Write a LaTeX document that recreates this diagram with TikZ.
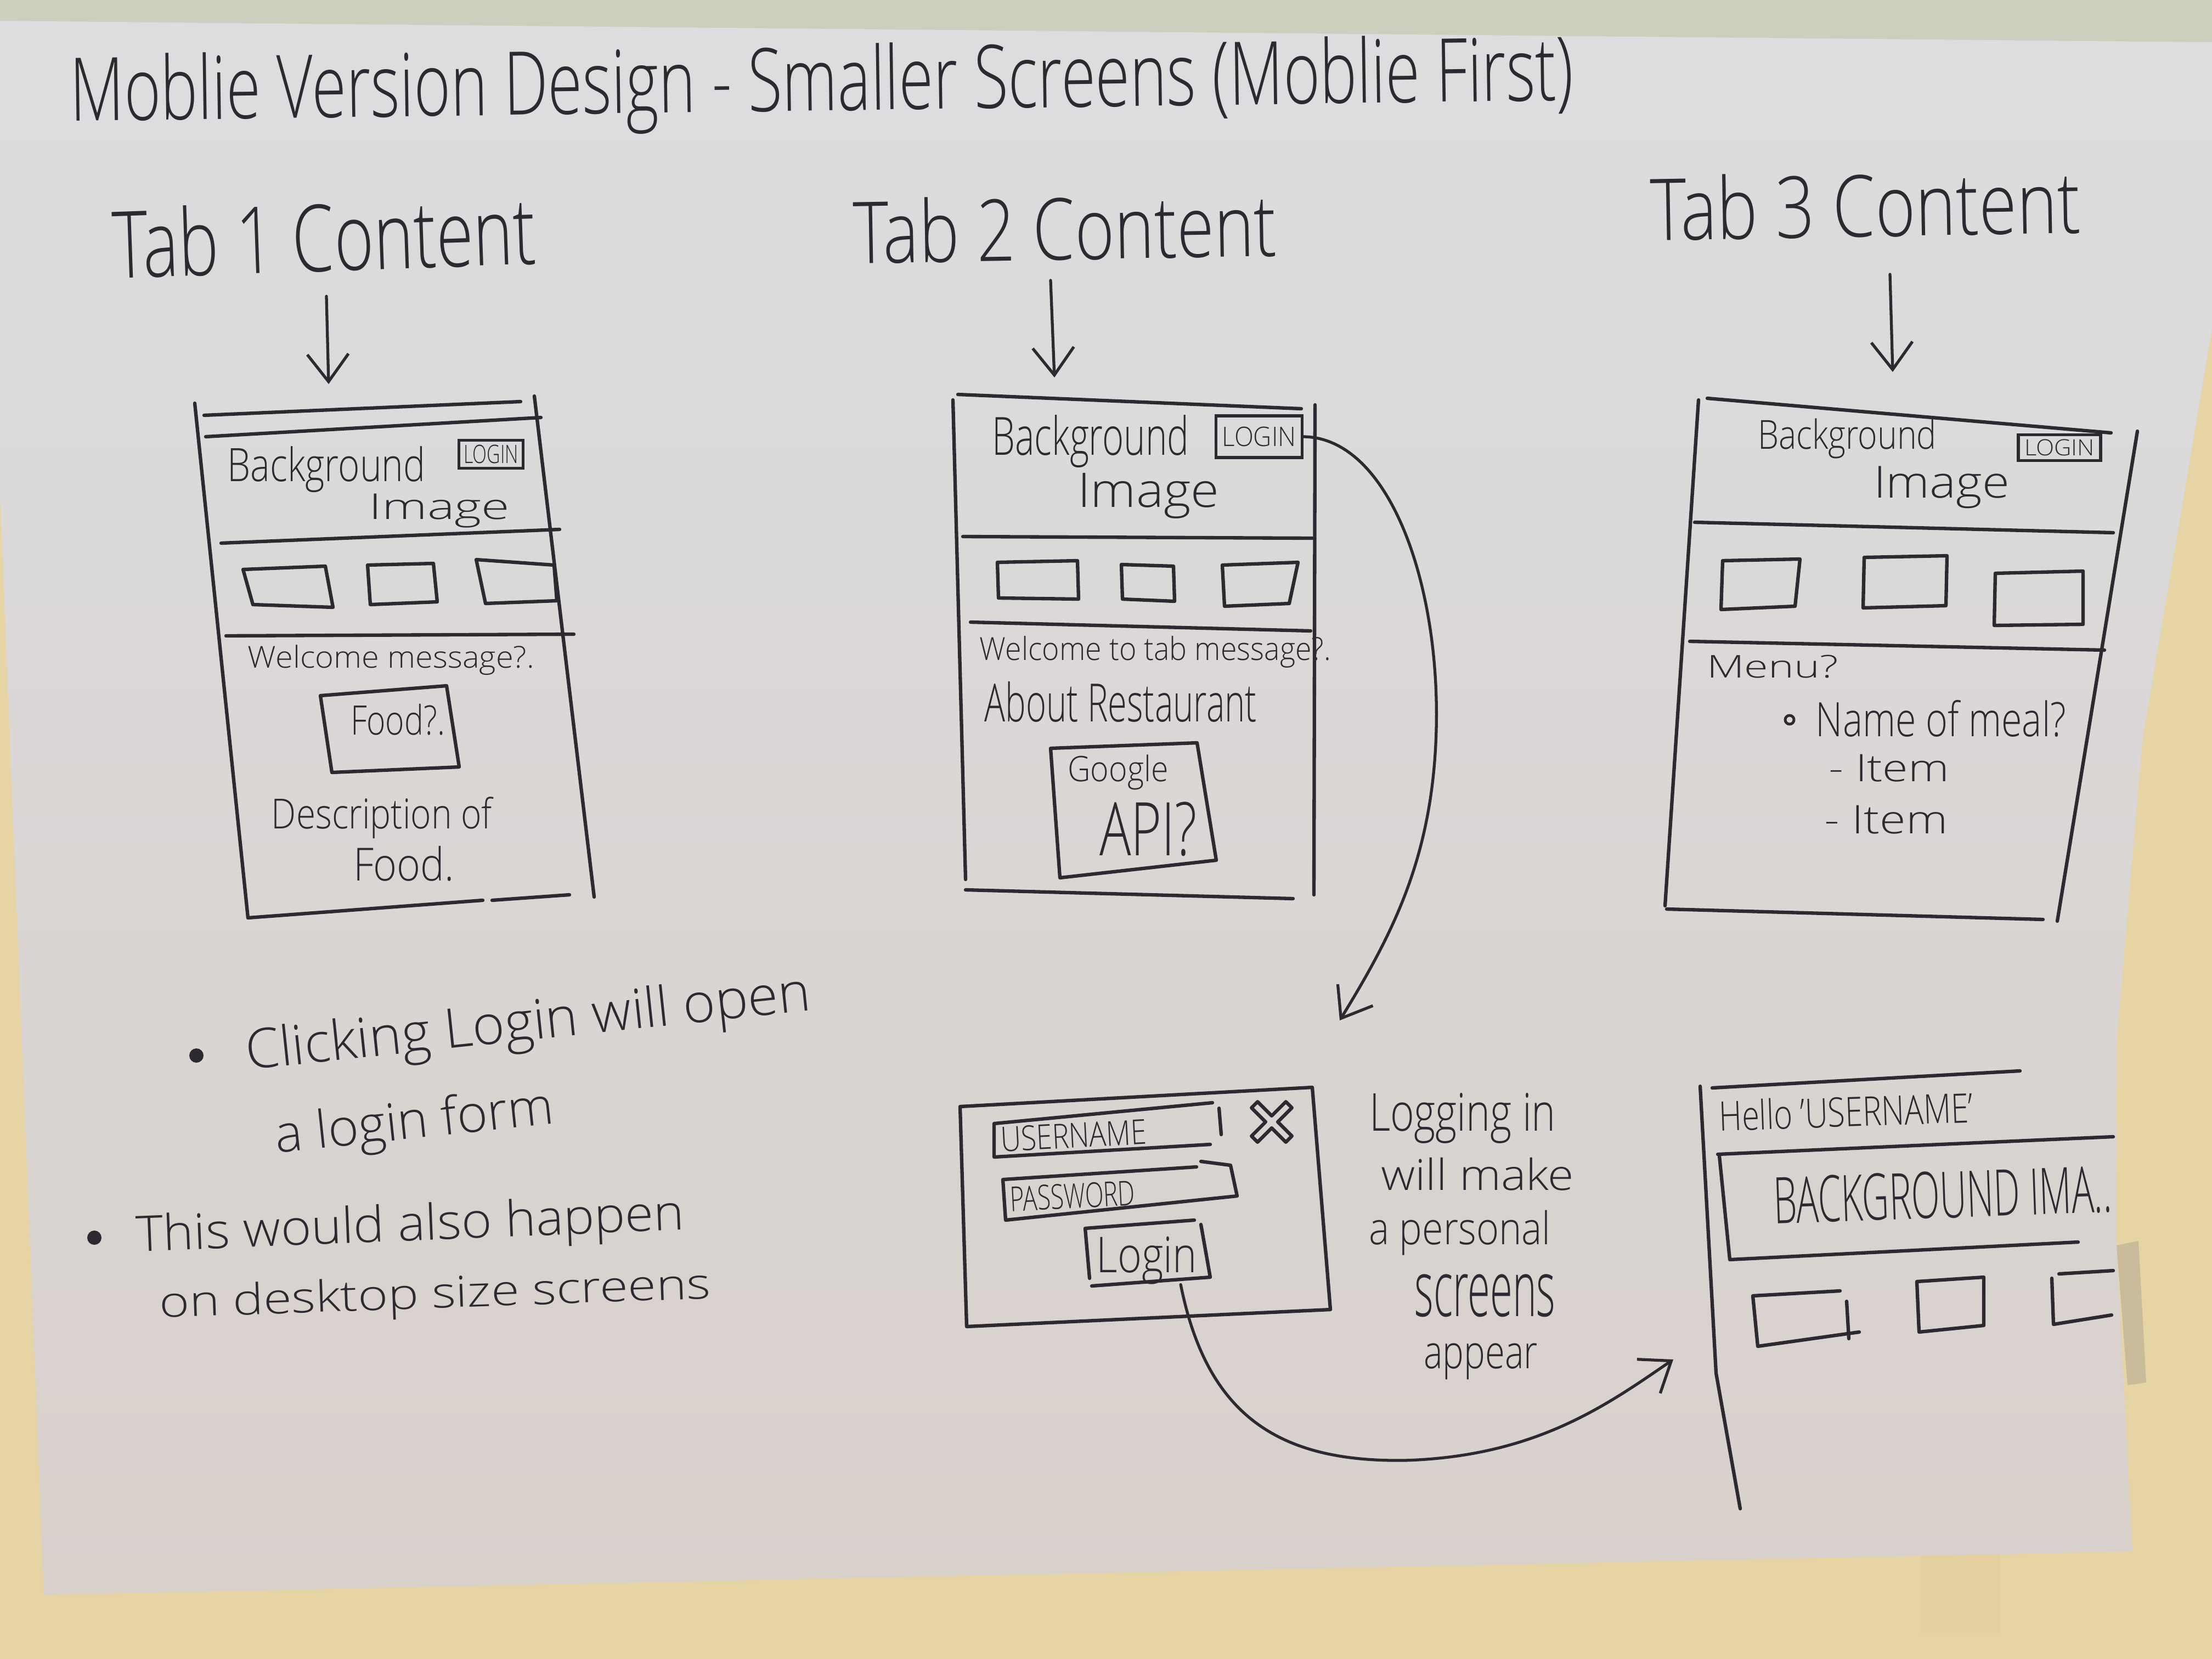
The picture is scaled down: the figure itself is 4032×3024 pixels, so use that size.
\documentclass[tikz,border=0pt]{standalone}
\usepackage{fontspec}
\IfFontExistsTF{Open Sans Light}{\setmainfont{Open Sans Light}}{\setmainfont{Open Sans}}
\usepackage{graphicx}
\usetikzlibrary{arrows.meta}
% one drawing unit = 0.01cm, so the sheet is 4032 x 3024 units
\newdimen\pxu \pxu=0.01cm
% handwritten word fitted into a box of given width and total height (in units)
\newcommand{\hw}[3]{\resizebox*{#1\pxu}{#2\pxu}{#3}}
\definecolor{ink}{HTML}{2C2A30}
\definecolor{paperTop}{HTML}{DDDDDF}
\definecolor{paperBot}{HTML}{D8D0CB}
\definecolor{wall}{HTML}{E6D4A4}
\definecolor{wallTop}{HTML}{CBCFBE}
\definecolor{tape}{HTML}{E2C793}
\begin{document}
\begin{tikzpicture}[x=0.01cm,y=-0.01cm,
  pen/.style={draw=ink,line width=1.8pt,line cap=round,line join=round},
  hand/.style={inner sep=0pt,outer sep=0pt,text=ink},
  logbox/.style={hand,draw=ink,line width=1.5pt},
  flow/.style={pen,line width=1.5pt,-{Straight Barb[length=0.5cm,width=0.75cm]}}]
\useasboundingbox (0,0) rectangle (4032,3024);

% wall behind the sheet
\fill[wall] (0,0) rectangle (4032,3024);
\fill[wallTop] (0,0) rectangle (4032,90);
\fill[tape,opacity=.35] (3500,2830) rectangle (3646,2977);

% the sheet of paper
\shade[top color=paperTop,bottom color=paperBot]
  (0,38) -- (4032,77) -- (4032,600) -- (3905,1350) -- (3858,1900)
  -- (3858,2270) -- (3887,2828) -- (80,2907) -- (0,900) -- cycle;
\fill[gray!50!wall,opacity=.55] (3858,2270) -- (3898,2262) -- (3912,2520) -- (3878,2525) -- cycle;

% ---------- headings ----------
\node[hand,rotate=0.8] (title) at (1498,160) {\hw{2740}{160}{Moblie Version Design - Smaller Screens (Moblie First)}};

\node[hand,rotate=2] (tab1) at (591,431) {\hw{771}{130}{Tab 1 Content}};
\node[hand,rotate=1] (tab2) at (1941,415) {\hw{772}{120}{Tab 2 Content}};
\node[hand,rotate=1] (tab3) at (3400,373) {\hw{784}{120}{Tab 3 Content}};

\coordinate (a1s) at (595,540);  \coordinate (a1e) at (599,700);
\coordinate (a2s) at (1915,511); \coordinate (a2e) at (1922,688);
\coordinate (a3s) at (3445,500); \coordinate (a3e) at (3450,678);
\draw[flow] (a1s) -- (a1e);
\draw[flow] (a2s) -- (a2e);
\draw[flow] (a3s) -- (a3e);

% ---------- tab 1 screen ----------
\draw[pen] (372,757) -- (949,732);
\draw[pen] (375,796) -- (986,761);
\draw[pen] (355,735) -- (452,1673);
\draw[pen] (974,722) -- (1083,1635);
\draw[pen] (403,990) -- (1020,965);
\draw[pen] (412,1159) -- (1046,1156);
\draw[pen] (452,1673) -- (880,1641);
\draw[pen] (897,1641) -- (1038,1631);
\node[hand] (bg1) at (595,856) {\hw{361}{84}{Background}};
\node[hand] (im1) at (801,931) {\hw{256}{62}{Image}};
\node[logbox,inner xsep=0.085cm,inner ysep=0.085cm] (lg1) at (895,828) {\hw{100}{34}{LOGIN}};
\draw[pen] (443,1038) -- (593,1032) -- (607,1107) -- (461,1102) -- cycle;
\draw[pen] (670,1030) -- (790,1027) -- (797,1097) -- (675,1102) -- cycle;
\draw[pen] (868,1020) -- (1010,1030) -- (1015,1095) -- (885,1100) -- cycle;
\node[hand] (wm1) at (713,1203) {\hw{522}{55}{Welcome message?.}};
\draw[pen] (584,1268) -- (814,1250) -- (837,1398) -- (605,1408) -- cycle;
\node[hand] (fd1) at (725,1312) {\hw{172}{57}{Food?.}};
\node[hand] (ds1) at (696,1491) {\hw{402}{76}{Description of}};
\node[hand] (fo1) at (736,1574) {\hw{184}{64}{Food.}};

% ---------- tab 2 screen ----------
\draw[pen] (1746,719) -- (2372,745);
\draw[pen] (1737,729) -- (1760,1603);
\draw[pen] (2397,738) -- (2395,1631);
\draw[pen] (1755,978) -- (2392,981);
\draw[pen] (1769,1134) -- (2389,1150);
\draw[pen] (1760,1622) -- (2357,1638);
\node[hand] (bg2) at (1988,805) {\hw{359}{96}{Background}};
\node[hand] (im2) at (2093,904) {\hw{258}{83}{Image}};
\node[logbox,inner xsep=0.11cm,inner ysep=0.2cm] (lg2) at (2295,796) {\hw{135}{36}{LOGIN}};
\draw[pen] (1818,1025) -- (1964,1022) -- (1966,1092) -- (1820,1090) -- cycle;
\draw[pen] (2044,1029) -- (2139,1032) -- (2141,1096) -- (2046,1092) -- cycle;
\draw[pen] (2228,1030) -- (2366,1025) -- (2350,1100) -- (2232,1105) -- cycle;
\node[hand] (wm2) at (2106,1188) {\hw{640}{58}{Welcome to tab message?.}};
\node[hand] (ab2) at (2043,1279) {\hw{496}{74}{About Restaurant}};
\draw[pen] (1915,1364) -- (2182,1354) -- (2217,1568) -- (1932,1600) -- cycle;
\node[hand] (gg2) at (2038,1408) {\hw{183}{64}{Google}};
\node[hand] (ap2) at (2093,1511) {\hw{178}{99}{API?}};

% ---------- tab 3 screen ----------
\draw[pen] (3112,726) -- (3848,789);
\draw[pen] (3096,729) -- (3035,1651);
\draw[pen] (3896,786) -- (3750,1679);
\draw[pen] (3089,952) -- (3852,971);
\draw[pen] (3080,1169) -- (3836,1185);
\draw[pen] (3038,1657) -- (3724,1676);
\node[hand] (bg3) at (3367,800) {\hw{326}{73}{Background}};
\node[hand] (im3) at (3539,888) {\hw{248}{77}{Image}};
\node[logbox,inner xsep=0.11cm,inner ysep=0.085cm] (lg3) at (3754,816) {\hw{128}{30}{LOGIN}};
\draw[pen] (3140,1022) -- (3281,1019) -- (3272,1105) -- (3137,1111) -- cycle;
\draw[pen] (3398,1016) -- (3549,1013) -- (3547,1104) -- (3396,1108) -- cycle;
\draw[pen] (3637,1045) -- (3797,1041) -- (3797,1138) -- (3635,1140) -- cycle;
\node[hand] (mn3) at (3231,1215) {\hw{239}{42}{Menu?}};
\draw[pen,line width=1.4pt] (3262,1312) circle (8);
\node[hand] (ml3) at (3538,1310) {\hw{456}{67}{Name of meal?}};
\node[hand] (it3a) at (3443,1400) {\hw{220}{50}{- Item}};
\node[hand] (it3b) at (3438,1494) {\hw{225}{52}{- Item}};

% ---------- notes ----------
\fill[ink] (358,1924) circle (13);
\node[hand,rotate=6] (n1a) at (963,1870) {\hw{1035}{100}{Clicking Login will open}};
\node[hand,rotate=6] (n1b) at (756,2050) {\hw{510}{95}{a login form}};
\fill[ink] (172,2256) circle (13);
\node[hand,rotate=2.3] (n2a) at (748,2238) {\hw{1000}{90}{This would also happen}};
\node[hand,rotate=2] (n2b) at (793,2364) {\hw{1005}{78}{on desktop size screens}};

% ---------- login form ----------
\draw[pen] (1750,2017) -- (2392,1982) -- (2425,2387) -- (1762,2418) -- cycle;
\draw[pen] (2210,2010) -- (1812,2048) -- (1812,2109) -- (2206,2086);
\draw[pen] (2222,2020) -- (2226,2068);
\node[hand,rotate=3] (un) at (1957,2070) {\hw{266}{46}{USERNAME}};
\draw[pen,shift={(2318,2045)},scale=0.92]
  (-40,-28) -- (-28,-40) -- (0,-12) -- (28,-40) -- (40,-28) -- (12,0)
  -- (40,28) -- (28,40) -- (0,12) -- (-28,40) -- (-40,28) -- (-12,0) -- cycle;
\draw[pen] (2181,2127) -- (1828,2150) -- (1833,2224) -- (2255,2180) -- (2243,2124) -- (2189,2117);
\node[hand,rotate=3] (pw) at (1955,2180) {\hw{228}{46}{PASSWORD}};
\draw[pen] (2177,2224) -- (1978,2239) -- (1986,2330);
\draw[pen] (1990,2344) -- (2206,2328) -- (2189,2232);
\node[hand] (lbtn) at (2090,2298) {\hw{183}{87}{Login}};

\node[hand] (lt1) at (2666,2038) {\hw{340}{92}{Logging in}};
\node[hand] (lt2) at (2693,2140) {\hw{352}{60}{will make}};
\node[hand] (lt3) at (2661,2247) {\hw{331}{82}{a personal}};
\node[hand] (lt4) at (2707,2362) {\hw{257}{78}{screens}};
\node[hand] (lt5) at (2699,2482) {\hw{208}{66}{appear}};

% ---------- personal screen ----------
\draw[pen] (3121,1983) -- (3682,1952);
\draw[pen] (3099,1980) -- (3128,2503) -- (3172,2750);
\node[hand,rotate=2] (hl) at (3365,2026) {\hw{463}{57}{Hello 'USERNAME'}};
\draw[pen] (3131,2104) -- (3852,2072);
\draw[pen] (3134,2107) -- (3153,2296) -- (3788,2264);
\node[hand,rotate=2] (bgi) at (3541,2178) {\hw{616}{86}{BACKGROUND IMA..}};
\draw[pen] (3354,2353) -- (3195,2362) -- (3204,2454) -- (3389,2428);
\draw[pen] (3366,2372) -- (3370,2440);
\draw[pen] (3494,2336) -- (3616,2328) -- (3616,2416) -- (3498,2428) -- cycle;
\draw[pen] (3852,2316) -- (3753,2322);
\draw[pen] (3740,2330) -- (3743,2414) -- (3849,2397);

% ---------- flow between screens ----------
\coordinate (c1e) at (2442,1860);
\draw[flow] (lg2.east) .. controls (2530,795) and (2625,1060) .. (2618,1330)
  .. controls (2612,1560) and (2540,1700) .. (c1e);
\coordinate (c2e) at (3050,2478);
\draw[flow] (lbtn.-35) .. controls (2200,2580) and (2330,2665) .. (2560,2662)
  .. controls (2800,2655) and (2930,2560) .. (c2e);
\end{tikzpicture}
\end{document}
